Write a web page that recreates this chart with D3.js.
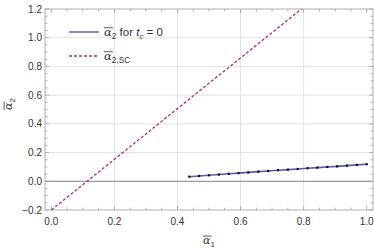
<!DOCTYPE html>
<meta charset="utf-8">
<script src="https://d3js.org/d3.v7.min.js"></script>
<html>
<style>
body { margin: 0; background: #fff; }
text { font-family: "Liberation Sans", Arial, sans-serif; fill: #333; }
</style>
<body>
<svg id="chart" width="374" height="248"></svg>
<script>

// data
var tcX = [0.4375, 0.46875, 0.5, 0.53125, 0.5625, 0.59375, 0.625, 0.65625, 0.6875, 0.71875,
           0.75, 0.78125, 0.8125, 0.84375, 0.875, 0.90625, 0.9375, 0.96875, 1.0];
var tcY = [0.032, 0.037, 0.042, 0.047, 0.052, 0.057, 0.062, 0.067, 0.072, 0.077,
           0.081, 0.086, 0.091, 0.095, 0.100, 0.104, 0.109, 0.114, 0.119];
var scX = [0.0, 0.793];
var scY = [-0.2, 1.2];
var xTicks = [0.0, 0.2, 0.4, 0.6, 0.8, 1.0];
var yTicks = [-0.2, 0.0, 0.2, 0.4, 0.6, 0.8, 1.0, 1.2];

var svg = d3.select("#chart");
var pLeft = 45, pRight = 373, pTop = 9, pBottom = 210;

var x = d3.scaleLinear().domain([-0.02, 1.02]).range([pLeft, pRight]);
var y = d3.scaleLinear().domain([-0.2, 1.2]).range([pBottom, pTop]);

// grid
var grid = svg.append("g");
grid.selectAll(".gx").data(xTicks.filter(function(d){ return d > 0.1 && d < 0.9; }))
  .enter().append("line")
  .attr("x1", function(d){ return x(d); }).attr("x2", function(d){ return x(d); })
  .attr("y1", pTop).attr("y2", pBottom)
  .attr("stroke", "#e3e3e3").attr("stroke-width", 1);
grid.selectAll(".gy").data(yTicks.filter(function(d){ return d > 0.1 && d < 1.1; }))
  .enter().append("line")
  .attr("y1", function(d){ return y(d); }).attr("y2", function(d){ return y(d); })
  .attr("x1", pLeft).attr("x2", pRight)
  .attr("stroke", "#e3e3e3").attr("stroke-width", 1);

// zero line
svg.append("line")
  .attr("x1", pLeft).attr("x2", pRight)
  .attr("y1", y(0)).attr("y2", y(0))
  .attr("stroke", "#9a9a9a").attr("stroke-width", 1.2);

// frame
svg.append("rect")
  .attr("x", pLeft).attr("y", pTop)
  .attr("width", pRight - pLeft).attr("height", pBottom - pTop)
  .attr("fill", "none").attr("stroke", "#b0b0b0").attr("stroke-width", 1);

// ticks (major + minor) on all four sides
var xMinor = d3.range(0, 1.0001, 0.05);
var yMinor = d3.range(-0.2, 1.2001, 0.05);
function isMajor(v) { return Math.abs(v * 5 - Math.round(v * 5)) < 1e-6; }
var tk = svg.append("g").attr("stroke", "#a0a0a0").attr("stroke-width", 0.8);
xMinor.forEach(function(v) {
  var len = isMajor(v) ? 4 : 2.5;
  tk.append("line").attr("x1", x(v)).attr("x2", x(v)).attr("y1", pBottom).attr("y2", pBottom - len);
  tk.append("line").attr("x1", x(v)).attr("x2", x(v)).attr("y1", pTop).attr("y2", pTop + len);
});
yMinor.forEach(function(v) {
  var len = isMajor(v) ? 4 : 2.5;
  tk.append("line").attr("y1", y(v)).attr("y2", y(v)).attr("x1", pLeft).attr("x2", pLeft + len);
  tk.append("line").attr("y1", y(v)).attr("y2", y(v)).attr("x1", pRight).attr("x2", pRight - len);
});

// tick labels
var fmt = d3.format(".1f");
svg.selectAll(".xl").data(xTicks).enter().append("text")
  .attr("x", function(d){ return x(d); }).attr("y", pBottom + 15)
  .attr("text-anchor", "middle").attr("font-size", 10)
  .text(function(d){ return fmt(d); });
svg.selectAll(".yl").data(yTicks).enter().append("text")
  .attr("x", pLeft - 3).attr("y", function(d){ return y(d) + 3.6; })
  .attr("text-anchor", "end").attr("font-size", 10)
  .text(function(d){ return fmt(d).replace("-", "\u2212"); });

// dashed SC line
var line = d3.line().x(function(d){ return x(d[0]); }).y(function(d){ return y(d[1]); });
svg.append("path")
  .datum(d3.zip(scX, scY))
  .attr("d", line)
  .attr("fill", "none").attr("stroke", "#b0306a").attr("stroke-width", 1.3)
  .attr("stroke-dasharray", "3,2");

// t_c = 0 line with points
var tcData = d3.zip(tcX, tcY);
svg.append("path")
  .datum(tcData)
  .attr("d", line)
  .attr("fill", "none").attr("stroke", "#5a5ab8").attr("stroke-width", 1.6);
svg.selectAll(".pt").data(tcData).enter().append("rect")
  .attr("x", function(d){ return x(d[0]) - 1.1; })
  .attr("y", function(d){ return y(d[1]) - 1.1; })
  .attr("width", 2.2).attr("height", 2.2)
  .attr("fill", "#111");

// overlined alpha with subscript
function alphaLabel(g, px, py, sub, size) {
  var t = g.append("text").attr("x", px).attr("y", py).attr("font-size", size);
  var a = t.append("tspan").attr("font-style", "italic").attr("font-family", "DejaVu Serif, serif").text("\u03b1");
  t.append("tspan").attr("font-size", size * 0.72).attr("dy", size * 0.28).text(sub);
  var aw = a.node().getComputedTextLength();
  g.append("line").attr("x1", px).attr("x2", px + aw + size * 0.1)
    .attr("y1", py - size * 0.72).attr("y2", py - size * 0.72)
    .attr("stroke", "#333").attr("stroke-width", 0.8);
  return t;
}

// axis labels
var xl = svg.append("g");
alphaLabel(xl, 203, 244, "1", 11);
var yl = svg.append("g").attr("transform", "translate(12,110) rotate(-90)");
alphaLabel(yl, 0, 0, "2", 11);

// legend
var lg = svg.append("g");
lg.append("line").attr("x1", 69).attr("x2", 99).attr("y1", 32).attr("y2", 32)
  .attr("stroke", "#4848a8").attr("stroke-width", 1.3);
var t1 = alphaLabel(lg, 104, 36, "2", 11.5);
t1.append("tspan").attr("dy", -11.5 * 0.28).text(" for ");
t1.append("tspan").attr("font-style", "italic").text("t");
t1.append("tspan").attr("font-style", "italic").attr("font-size", 8).attr("dy", 3).text("c");
t1.append("tspan").attr("dy", -3).text(" = 0");

lg.append("line").attr("x1", 69).attr("x2", 99).attr("y1", 56).attr("y2", 56)
  .attr("stroke", "#b0306a").attr("stroke-width", 1.3).attr("stroke-dasharray", "3,2");
alphaLabel(lg, 104, 60, "2,SC", 11.5);

</script>
</body>
</html>
